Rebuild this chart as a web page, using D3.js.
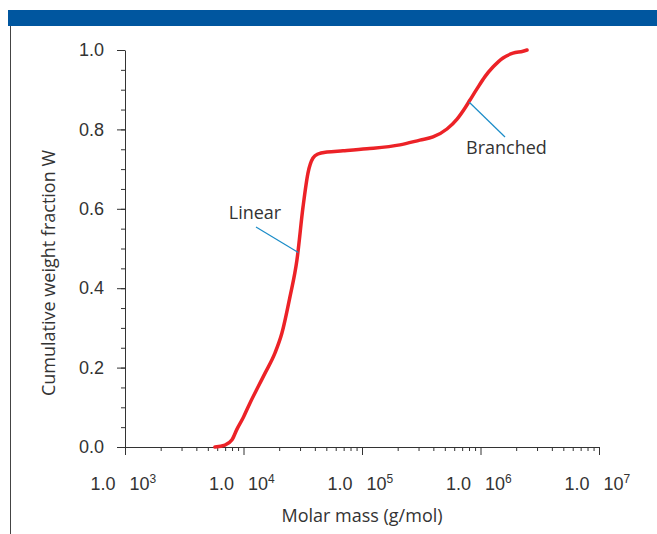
<!DOCTYPE html>
<html>
<head>
<meta charset="utf-8">
<script src="https://cdn.jsdelivr.net/npm/d3@7"></script>
<style>
  body { margin: 0; background: #fff; }
  svg { display: block; font-family: "Open Sans", "Noto Sans", sans-serif; }
  .axis path, .axis line { stroke: #333; }
  .axis text { fill: #333; }
</style>
</head>
<body>
<svg id="chart" width="657" height="534"></svg>
<script>
// molar mass (g/mol) and cumulative weight fraction
const molarMass = [5740, 6980, 8000, 8810, 9910, 11350, 13250, 15200, 18450, 21100,
    24660, 28250, 31800, 35000, 38600, 42500, 50700, 69200, 110000, 209000,
    308000, 397000, 521000, 634000, 740000, 815000, 933000, 1091000, 1274000,
    1549000, 1880000, 2284000, 2470000];
const weightFraction = [0.0, 0.005, 0.018, 0.045, 0.073, 0.111, 0.151, 0.186, 0.237, 0.287,
    0.378, 0.471, 0.605, 0.690, 0.728, 0.738, 0.743, 0.746, 0.751, 0.761,
    0.773, 0.781, 0.801, 0.826, 0.854, 0.874, 0.902, 0.933, 0.957,
    0.980, 0.992, 0.997, 1.0];

const xDecades = [1e3, 1e4, 1e5, 1e6, 1e7];
const yTicks = [0, 0.2, 0.4, 0.6, 0.8, 1.0];

// annotations: label, point on curve (molar mass, W), label position
const labels = [
    { text: 'Linear', m: 29000, w: 0.49, lx: 256, ly: 227, tx: 255, ty: 219, anchor: 'middle' },
    { text: 'Branched', m: 800000, w: 0.869, lx: 505, ly: 137, tx: 466, ty: 154, anchor: 'start' }
];

const svg = d3.select('#chart');

// header bar + left frame line
svg.append('rect').attr('x', 8).attr('y', 10).attr('width', 649).attr('height', 16).attr('fill', '#00569f');
svg.append('line').attr('x1', 10.5).attr('x2', 10.5).attr('y1', 26).attr('y2', 534)
    .attr('stroke', '#444').attr('stroke-width', 1);

const x = d3.scaleLog().domain([1e3, 1e7]).range([125, 599]);
const y = d3.scaleLinear().domain([0, 1]).range([447, 50]);

// minor ticks
var minorX = [];
xDecades.slice(0, -1).forEach(function(d){
    for (var k = 2; k < 10; k++) minorX.push(d * k);
});
svg.append('g').attr('class', 'axis').attr('transform', 'translate(0,447)')
    .call(d3.axisBottom(x).tickValues(minorX).tickSize(4).tickFormat(''))
    .call(g => g.select('.domain').remove());
svg.append('g').attr('class', 'axis').attr('transform', 'translate(125,0)')
    .call(d3.axisLeft(y).tickValues(d3.range(0, 1.001, 0.05)).tickSize(4).tickFormat(''))
    .call(g => g.select('.domain').remove());

// major x axis
const xAxis = svg.append('g').attr('class', 'axis').attr('transform', 'translate(0,447)')
    .call(d3.axisBottom(x).tickValues(xDecades).tickSize(8).tickSizeOuter(0).tickFormat(''));
xAxis.selectAll('.tick').each(function(d){
    const t = d3.select(this);
    t.append('text').attr('x', -10).attr('y', 43).attr('text-anchor', 'end')
        .attr('font-size', 18).text('1.0');
    const s = t.append('text').attr('x', 4).attr('y', 43).attr('text-anchor', 'start')
        .attr('font-size', 18).text('10');
    s.append('tspan').attr('dy', -7).attr('font-size', 12).text(Math.round(Math.log10(d)));
});

// major y axis
svg.append('g').attr('class', 'axis').attr('transform', 'translate(125,0)')
    .call(d3.axisLeft(y).tickValues(yTicks).tickSize(8).tickSizeOuter(0).tickFormat(d3.format('.1f')))
    .call(g => g.selectAll('text').attr('font-size', 18).attr('x', -21));

// axis titles
svg.append('text').attr('x', 362).attr('y', 522).attr('text-anchor', 'middle')
    .attr('font-size', 18).attr('fill', '#333').text('Molar mass (g/mol)');
svg.append('text').attr('transform', 'translate(55,273) rotate(-90)').attr('text-anchor', 'middle')
    .attr('font-size', 18).attr('fill', '#333').text('Cumulative weight fraction W');

// curve
const pts = molarMass.map((m, i) => [m, weightFraction[i]]);
svg.append('path').datum(pts)
    .attr('fill', 'none').attr('stroke', '#ec2227').attr('stroke-width', 3.5)
    .attr('stroke-linecap', 'round')
    .attr('d', d3.line().x(d => x(d[0])).y(d => y(d[1])).curve(d3.curveMonotoneX));

// leader lines and labels
labels.forEach(function(l){
    svg.append('line').attr('x1', l.lx).attr('y1', l.ly).attr('x2', x(l.m)).attr('y2', y(l.w))
        .attr('stroke', '#1a8cc8').attr('stroke-width', 1.2);
    svg.append('text').attr('x', l.tx).attr('y', l.ty).attr('text-anchor', l.anchor)
        .attr('font-size', 18).attr('fill', '#333').text(l.text);
});
</script>
</body>
</html>
